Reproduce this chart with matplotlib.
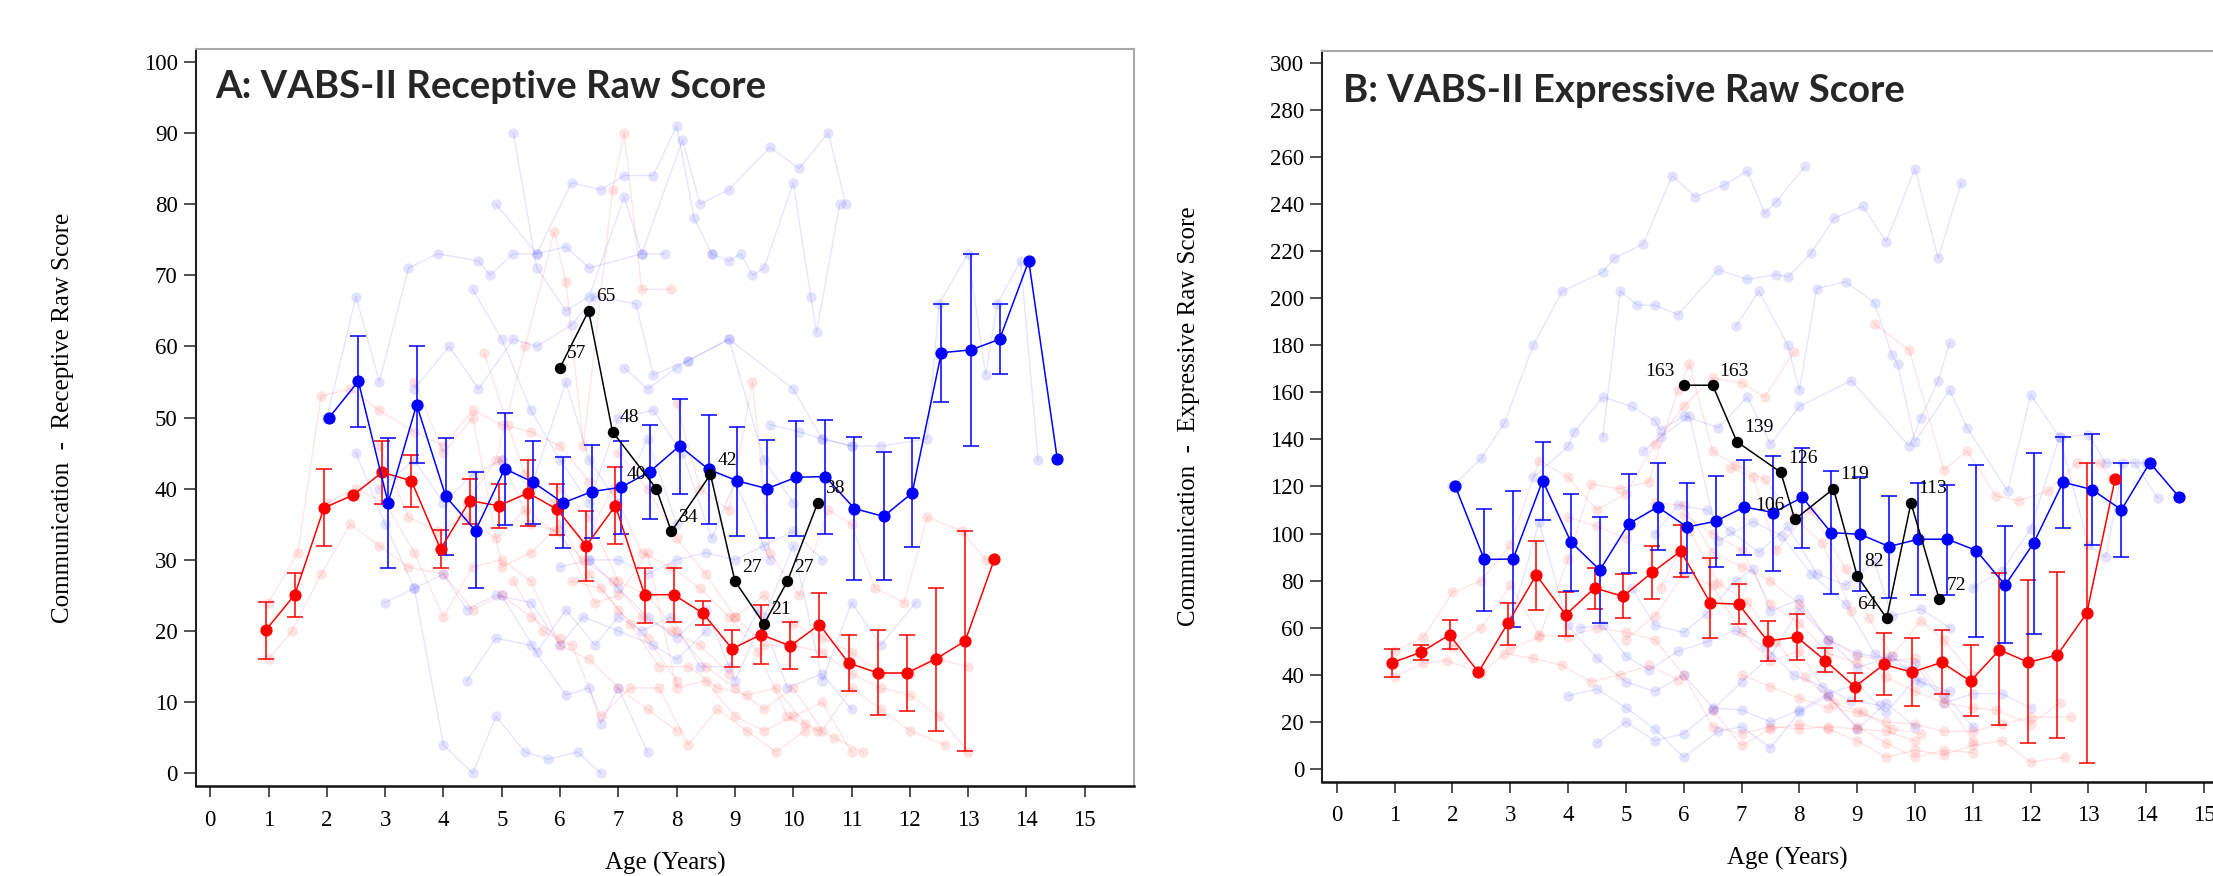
import matplotlib
matplotlib.use("Agg")
import matplotlib.pyplot as plt
import numpy as np

# ---------------- DATA ----------------
# Panel A: VABS-II Receptive raw score
a_red_age = [0.95, 1.45, 1.95, 2.45, 2.95, 3.45, 3.95, 4.45, 4.95, 5.45, 5.95, 6.45, 6.95,
             7.45, 7.95, 8.45, 8.95, 9.45, 9.95, 10.45, 10.95, 11.45, 11.95, 12.45, 12.95, 13.45]
a_red_mean = [20.1, 25.1, 37.3, 39.1, 42.3, 41.1, 31.5, 38.3, 37.6, 39.4, 37.1, 32.0, 37.6,
              25.1, 25.1, 22.5, 17.5, 19.5, 17.9, 20.9, 15.5, 14.1, 14.1, 16.1, 18.6, 30.1]
a_red_hi = [24.1, 28.2, 42.7, None, 46.7, 44.7, 34.2, 41.4, 40.7, 44.0, 40.7, 36.9, 43.0,
            28.9, 28.8, 24.2, 20.1, 23.6, 21.3, 25.3, 19.4, 20.1, 19.4, 26.1, 34.1, None]
a_red_lo = [16.1, 21.9, 31.9, None, 37.9, 37.4, 28.9, 35.1, 34.5, 34.7, 33.5, 27.0, 32.2,
            21.1, 21.3, 20.8, 14.9, 15.3, 14.6, 16.4, 11.5, 8.2, 8.8, 6.0, 3.1, None]

a_blue_age = [2.04, 2.54, 3.05, 3.54, 4.04, 4.55, 5.05, 5.54, 6.05, 6.55, 7.05, 7.54, 8.05,
              8.55, 9.04, 9.55, 10.05, 10.55, 11.05, 11.55, 12.04, 12.54, 13.05, 13.54, 14.04, 14.53]
a_blue_mean = [50.0, 55.1, 38.0, 51.8, 38.9, 34.1, 42.8, 40.9, 38.0, 39.6, 40.2, 42.4, 46.0,
               42.7, 41.1, 40.0, 41.6, 41.7, 37.2, 36.1, 39.4, 59.1, 59.5, 61.0, 72.0, 44.1]
a_blue_hi = [None, 61.4, 47.1, 60.0, 47.1, 42.4, 50.7, 46.7, 44.4, 46.2, 46.7, 48.9, 52.6,
             50.4, 48.7, 46.9, 49.5, 49.6, 47.3, 45.1, 47.1, 66.0, 73.0, 66.0, None, None]
a_blue_lo = [None, 48.6, 28.9, 43.6, 30.7, 26.0, 34.9, 35.1, 31.7, 33.0, 33.7, 35.8, 39.2,
             35.1, 33.4, 33.0, 33.4, 33.7, 27.1, 27.1, 31.8, 52.2, 46.0, 56.1, None, None]

case_age = [6.0, 6.49, 6.9, 7.65, 7.91, 8.58, 9.0, 9.5, 9.9, 10.42]
a_case = [57, 65, 48, 40, 34, 42, 27, 21, 27, 38]
a_case_side = ['R', 'R', 'R', 'L', 'R', 'R', 'R', 'R', 'R', 'R']

# faint individual trajectories, panel A (age, score)
a_blue_ind = [
    [(2.0, 50), (2.5, 67), (2.9, 55), (3.4, 71), (3.9, 73), (4.6, 72), (4.8, 70), (5.2, 73), (5.6, 73), (6.1, 74), (6.5, 71), (7.4, 73), (7.8, 73)],
    [(4.9, 80), (5.6, 73), (6.2, 83), (6.7, 82), (7.1, 84), (7.6, 84), (8.0, 91), (8.3, 78), (8.6, 73)],
    [(5.2, 90), (5.6, 71), (6.1, 65), (6.5, 67), (7.1, 81), (7.4, 73), (8.1, 89), (8.4, 80), (8.9, 82), (9.6, 88), (10.1, 85), (10.6, 90), (10.9, 80)],
    [(3.5, 54), (4.1, 60), (4.6, 54), (5.2, 61), (5.6, 60), (6.2, 63), (6.6, 67), (7.3, 66), (7.6, 56), (8.2, 58), (8.9, 61), (10.0, 54), (10.5, 47), (11.0, 46)],
    [(2.5, 45), (3.0, 35), (3.5, 26), (4.0, 28), (4.4, 23), (4.9, 25), (5.5, 24), (6.0, 18), (6.4, 22), (7.0, 20), (7.6, 18), (8.0, 16), (8.5, 20)],
    [(3.0, 24), (3.5, 26), (4.0, 4), (4.5, 0), (4.9, 8), (5.4, 3), (5.8, 2), (6.3, 3), (6.7, 0)],
    [(4.4, 13), (4.9, 19), (5.5, 18), (6.1, 11), (6.5, 12), (6.7, 7), (7.0, 12), (7.5, 3)],
    [(8.6, 73), (8.9, 72), (9.1, 73), (9.3, 70), (9.5, 71), (10.0, 83), (10.3, 67), (10.4, 62), (10.8, 80)],
    [(9.6, 49), (10.1, 48), (10.5, 47), (11.0, 46), (11.5, 46), (12.3, 47), (12.5, 66), (13.0, 73), (13.3, 56), (13.5, 66), (13.9, 72), (14.2, 44)],
    [(6.0, 29), (6.5, 30), (7.0, 26), (7.5, 22), (8.0, 19), (8.5, 23), (9.0, 13), (9.5, 22), (10.0, 32), (10.5, 13), (11.0, 24), (11.5, 18), (12.1, 24)],
    [(5.0, 25), (5.6, 17), (6.1, 23), (6.6, 18), (7.0, 22), (7.4, 20), (7.9, 22), (8.4, 15), (8.9, 15), (9.4, 23), (9.9, 12), (10.5, 14), (11.0, 9)],
    [(6.5, 30), (7.0, 30), (7.5, 28), (8.0, 30), (8.5, 31), (9.0, 30), (9.5, 32), (10.0, 34), (10.5, 30)],
    [(2.9, 40), (3.5, 44), (4.0, 38), (4.5, 42), (5.0, 44), (5.5, 40), (6.1, 55), (6.5, 44), (7.0, 38), (7.5, 47), (8.0, 35)],
    [(4.5, 68), (5.0, 61), (5.5, 51), (6.0, 44), (6.5, 38), (7.0, 50), (7.6, 51), (8.1, 45), (8.6, 33), (9.0, 41), (9.6, 30)],
    [(7.1, 57), (7.5, 54), (8.0, 57), (8.2, 58), (8.9, 61), (9.5, 44), (10.0, 38)],
]
a_red_ind = [
    [(1.0, 16), (1.4, 20), (1.9, 28), (2.4, 35), (2.9, 32), (3.4, 29), (4.0, 28), (4.5, 23), (5.0, 25), (5.5, 22), (6.0, 19)],
    [(1.0, 24), (1.5, 31), (1.9, 53), (2.4, 54), (2.9, 51), (3.5, 48), (4.0, 46), (4.5, 51), (5.0, 49), (5.5, 48), (6.0, 46), (6.5, 41)],
    [(2.0, 38), (2.5, 40), (3.0, 38), (3.5, 31), (4.0, 22), (4.5, 29), (5.0, 30), (5.5, 27), (6.0, 18), (6.5, 16), (7.0, 12), (7.5, 9), (8.0, 6)],
    [(2.9, 46), (3.4, 36), (3.9, 34), (4.4, 36), (4.9, 33), (5.4, 37), (5.9, 34), (6.4, 30), (6.9, 27), (7.4, 22), (7.9, 20), (8.4, 18), (8.9, 14)],
    [(4.4, 38), (4.9, 44), (5.4, 60), (5.9, 76), (6.1, 69), (6.4, 46), (6.9, 82), (7.1, 90), (7.4, 68), (7.9, 68)],
    [(4.7, 59), (5.1, 49), (5.4, 42), (5.9, 38), (6.4, 32), (6.9, 40), (7.4, 31), (7.9, 29), (8.4, 26), (8.9, 22), (9.4, 17), (9.9, 8), (10.4, 6)],
    [(5.0, 44), (5.5, 35), (6.0, 34), (6.6, 24), (7.0, 25), (7.5, 31), (8.0, 12), (8.5, 13), (9.0, 8), (9.5, 6), (10.0, 8), (10.5, 10), (11.0, 3)],
    [(6.0, 40), (6.5, 36), (7.0, 27), (7.5, 25), (8.0, 20), (8.5, 15), (9.0, 12), (9.5, 9), (10.0, 12), (10.5, 6), (11.0, 12), (11.5, 9), (12.0, 6), (12.6, 4)],
    [(8.0, 52), (8.4, 40), (8.9, 37), (9.3, 55), (9.6, 31), (10.1, 25), (10.6, 37), (11.0, 35), (11.4, 26), (11.9, 24), (12.3, 36), (12.9, 34), (13.3, 30)],
    [(6.2, 27), (6.7, 26), (7.2, 21), (7.7, 15), (8.2, 15), (8.7, 12), (9.2, 11), (9.7, 12), (10.2, 7), (10.7, 5), (11.2, 3)],
    [(5.2, 27), (5.7, 20), (6.2, 18), (6.7, 8), (7.2, 12), (7.7, 12), (8.2, 4), (8.7, 9), (9.2, 6), (9.7, 3), (10.2, 6)],
    [(7.0, 45), (7.5, 40), (8.0, 33), (8.5, 28), (9.0, 22), (9.5, 18), (10.0, 18), (10.5, 17), (11.0, 14), (11.5, 12), (12.0, 11), (12.5, 8), (13.0, 3)],
    [(3.5, 55), (4.0, 45), (4.5, 50), (5.0, 29), (5.5, 31), (6.0, 35), (6.5, 28), (7.0, 23), (7.5, 19), (8.0, 13)],
    [(9.0, 22), (9.5, 25), (10.0, 21), (10.5, 19), (11.0, 17), (11.5, 14), (12.0, 14), (12.5, 16), (13.0, 15)],
]

# Panel B: VABS-II Expressive raw score
b_red_age = [0.95, 1.46, 1.95, 2.45, 2.96, 3.45, 3.96, 4.46, 4.95, 5.46, 5.95, 6.46, 6.95,
             7.45, 7.96, 8.45, 8.96, 9.46, 9.95, 10.46, 10.96, 11.46, 11.96, 12.46, 12.97, 13.46]
b_red_mean = [45.1, 49.6, 57.0, 41.1, 62.0, 82.4, 65.5, 76.9, 73.3, 83.6, 92.6, 70.5, 70.0,
              54.4, 56.0, 46.0, 34.9, 44.4, 41.1, 45.3, 37.3, 50.6, 45.3, 48.4, 66.2, 123.2]
b_red_hi = [51.0, 52.7, 63.4, None, 70.7, 96.8, 75.0, 85.2, 82.8, 94.7, 103.7, 89.5, 78.6,
            62.9, 65.7, 51.3, 40.6, 57.7, 55.5, 59.1, 52.5, 83.3, 80.2, 83.6, 130.1, None]
b_red_lo = [38.9, 46.3, 51.0, None, 52.7, 67.6, 56.5, 68.1, 64.3, 72.4, 81.4, 55.8, 61.5,
            45.8, 46.3, 41.1, 29.0, 31.3, 26.6, 31.8, 22.3, 18.5, 10.9, 13.3, 2.4, None]

b_blue_age = [2.05, 2.55, 3.05, 3.56, 4.05, 4.55, 5.05, 5.55, 6.06, 6.55, 7.05, 7.55, 8.05,
              8.55, 9.05, 9.55, 10.06, 10.56, 11.06, 11.56, 12.05, 12.56, 13.06, 13.57, 14.06, 14.57]
b_blue_mean = [120.1, 89.0, 89.2, 122.5, 96.4, 84.5, 104.2, 111.3, 102.8, 105.2, 111.3, 108.9, 115.4,
               100.4, 99.7, 94.5, 97.6, 97.6, 92.8, 78.1, 95.9, 121.8, 118.7, 110.1, 130.1, 115.4]
b_blue_hi = [None, 110.4, 118.2, 139.1, 116.8, 107.0, 125.1, 129.8, 121.5, 124.4, 131.2, 132.9, 136.2,
             126.5, 124.1, 115.8, 121.3, 120.8, 129.1, 103.0, 134.3, 141.2, 142.2, 130.1, None, None]
b_blue_lo = [None, 67.2, 60.1, 105.9, 75.7, 62.0, 83.3, 93.0, 83.3, 85.7, 90.7, 84.3, 93.8,
             74.5, 75.5, 72.6, 73.8, 73.8, 56.0, 53.4, 57.2, 102.3, 95.2, 90.2, None, None]

b_case_age = [6.01, 6.5, 6.92, 7.68, 7.92, 8.59, 9.0, 9.51, 9.93, 10.42]
b_case = [163, 163, 139, 126, 106, 119, 82, 64, 113, 72]
b_case_side = ['L', 'R', 'R', 'R', 'L', 'R', 'R', 'L', 'R', 'R']

b_blue_ind = [
    [(2.0, 120), (2.5, 132), (2.9, 147), (3.4, 180), (3.9, 203), (4.6, 211), (4.8, 217), (5.3, 223), (5.8, 252), (6.2, 243), (6.7, 248), (7.1, 254), (7.4, 236), (7.6, 241), (8.1, 256)],
    [(4.6, 141), (4.9, 203), (5.2, 197), (5.5, 197), (5.9, 193), (6.6, 212), (7.1, 208), (7.6, 210), (7.8, 209), (8.2, 219), (8.6, 234), (9.1, 239), (9.5, 224), (10.0, 255), (10.4, 217), (10.8, 249)],
    [(3.4, 124), (4.0, 137), (4.1, 143), (4.6, 158), (5.1, 154), (5.5, 148), (5.6, 144), (6.0, 150), (6.6, 145), (7.1, 158), (7.5, 138), (8.0, 154), (8.9, 165), (9.9, 137), (10.1, 149), (10.4, 165), (10.6, 181)],
    [(6.9, 188), (7.3, 203), (7.8, 180), (8.0, 161), (8.3, 204), (8.8, 207), (9.3, 198), (9.6, 176), (9.7, 172), (10.0, 139), (10.6, 161), (10.9, 145), (11.6, 118), (12.0, 159), (12.5, 141), (13.0, 142), (13.3, 130), (13.8, 130), (14.2, 115)],
    [(3.0, 62), (3.5, 105), (4.0, 61), (4.5, 47), (5.0, 37), (5.5, 33), (6.0, 40), (6.5, 26), (7.0, 25), (7.5, 20), (8.0, 25), (8.5, 32), (9.0, 36), (9.5, 24), (10.0, 38), (10.5, 32), (11.0, 18)],
    [(4.0, 31), (4.5, 34), (5.0, 26), (5.5, 17), (6.0, 5), (6.6, 16), (7.0, 18), (7.5, 9), (8.0, 24), (8.5, 31), (9.0, 17), (9.5, 28), (10.0, 18)],
    [(4.5, 11), (5.0, 20), (5.5, 12), (6.0, 15), (6.5, 25), (7.0, 37), (7.5, 48), (8.0, 68), (8.5, 55), (9.0, 49), (9.5, 47), (10.0, 45), (10.5, 28), (11.0, 32), (11.5, 32), (12.0, 26)],
    [(5.1, 77), (5.5, 61), (6.0, 58), (6.4, 66), (6.9, 80), (7.2, 85), (7.5, 67), (8.0, 72), (8.5, 55), (9.0, 43), (9.6, 48), (10.1, 37), (10.6, 33)],
    [(5.5, 100), (5.9, 112), (6.4, 110), (6.8, 101), (7.3, 92), (7.8, 103), (8.3, 83), (8.8, 78), (9.3, 88), (9.6, 65), (10.1, 68), (10.6, 60)],
    [(5.3, 135), (5.6, 141), (6.1, 150), (6.6, 97), (7.2, 105), (7.7, 99), (8.2, 83), (8.8, 70), (9.3, 49), (9.9, 42)],
    [(4.2, 60), (4.6, 61), (5.0, 48), (5.4, 42), (5.9, 50), (6.4, 54), (6.9, 59), (7.4, 52), (7.9, 40), (8.4, 35), (8.9, 29), (9.4, 27)],
    [(11.0, 77), (11.5, 84), (12.0, 102), (12.5, 141), (13.0, 95), (13.3, 90), (13.6, 130), (14.0, 130)],
]
b_red_ind = [
    [(1.0, 39), (1.5, 45), (1.9, 46), (2.5, 41), (2.9, 49), (3.4, 47), (3.9, 44), (4.4, 37), (4.9, 40), (5.4, 44), (5.9, 38)],
    [(1.0, 50), (1.5, 56), (2.0, 75), (2.5, 80), (3.0, 95), (3.5, 131), (4.0, 124), (4.5, 110), (5.0, 117), (5.5, 138), (6.0, 154), (6.5, 166), (7.0, 164), (7.4, 158), (7.9, 177)],
    [(2.0, 52), (2.5, 60), (3.0, 78), (3.5, 57), (4.0, 56), (4.5, 60), (5.0, 58), (5.5, 55), (6.0, 40), (6.5, 18), (7.0, 15), (7.5, 18), (8.0, 17), (8.5, 18), (9.0, 17), (9.5, 16), (10.0, 12)],
    [(3.0, 51), (3.5, 56), (4.0, 89), (4.4, 121), (4.9, 119), (5.4, 122), (5.9, 161), (6.1, 172), (6.5, 135), (6.9, 129), (7.4, 123), (7.9, 107), (8.4, 96), (8.9, 67)],
    [(4.0, 107), (4.5, 103), (5.0, 98), (5.5, 113), (6.0, 112), (6.5, 92), (7.0, 86), (7.5, 80), (8.0, 70), (8.5, 55), (9.0, 48), (9.5, 46), (10.0, 47), (10.5, 30), (11.0, 12)],
    [(5.0, 55), (5.5, 65), (6.0, 83), (6.5, 78), (7.0, 58), (7.5, 46), (8.0, 50), (8.5, 31), (9.0, 18), (9.5, 11), (10.0, 5), (10.5, 8), (11.0, 7)],
    [(6.0, 108), (6.5, 100), (7.0, 93), (7.5, 70), (8.0, 62), (8.5, 49), (9.0, 45), (9.5, 39), (10.0, 33), (10.5, 28), (11.0, 26), (11.4, 25), (12.0, 19), (12.5, 28)],
    [(9.3, 189), (9.9, 178), (10.5, 127), (10.9, 135), (11.4, 116), (11.8, 114), (12.3, 118), (12.8, 130), (13.2, 130), (13.4, 123)],
    [(6.5, 25), (7.0, 10), (7.5, 17), (8.0, 19), (8.5, 17), (9.0, 12), (9.5, 5), (10.0, 8), (10.5, 6), (11.0, 10), (11.5, 12), (12.0, 3), (12.6, 5)],
    [(7.0, 40), (7.5, 35), (8.0, 30), (8.5, 26), (9.0, 24), (9.5, 20), (10.0, 19), (10.5, 16), (11.0, 16), (11.5, 19), (12.0, 22), (12.7, 22)],
    [(5.6, 77), (6.1, 101), (6.6, 79), (7.1, 71), (7.6, 54), (8.1, 39), (8.6, 28), (9.1, 24), (9.6, 17), (10.1, 15)],
    [(6.8, 128), (7.2, 124), (7.6, 93), (8.2, 110), (8.8, 85), (9.2, 64), (9.6, 48), (10.1, 63), (10.5, 55), (11.0, 40)],
]

titles = ["A: VABS-II Receptive Raw Score", "B: VABS-II Expressive Raw Score"]
ylabels = ["Communication  -  Receptive Raw Score", "Communication  -  Expressive Raw Score"]
xlabel = "Age (Years)"
a_yticks = list(range(0, 101, 10))
b_yticks = list(range(0, 301, 20))
xticks = list(range(0, 16))

# ---------------- STYLE / DRAW ----------------
W, H = 2213, 876
fig = plt.figure(figsize=(W / 100, H / 100), dpi=100)
serif = ['Liberation Serif', 'DejaVu Serif']

axA = fig.add_axes([195.7 / W, 1 - 786 / H, 938.6 / W, 737 / H])
axB = fig.add_axes([1322.3 / W, 1 - 781.7 / H, 931 / W, 731 / H])


def draw_panel(ax, red_age, red_mean, red_hi, red_lo, blue_age, blue_mean, blue_hi, blue_lo,
               c_age, c_val, c_side, blue_ind, red_ind, ylim, yticks, title, ylabel, title_xy):
    # faint individual trajectories
    for traj in blue_ind:
        xs = [p[0] for p in traj]
        ys = [p[1] for p in traj]
        ax.plot(xs, ys, '-', color=(0, 0, 1, 0.10), lw=1.0, zorder=1)
        ax.plot(xs, ys, 'o', color=(0, 0, 1, 0.11), ms=7.5, mec='none', zorder=1)
    for traj in red_ind:
        xs = [p[0] for p in traj]
        ys = [p[1] for p in traj]
        ax.plot(xs, ys, '-', color=(1, 0, 0, 0.10), lw=1.0, zorder=1)
        ax.plot(xs, ys, 'o', color=(1, 0, 0, 0.11), ms=7.5, mec='none', zorder=1)

    for age, mean, hi, lo, col in [(red_age, red_mean, red_hi, red_lo, '#ff0000'),
                                   (blue_age, blue_mean, blue_hi, blue_lo, '#0000ff')]:
        ex, ey, elo, ehi = [], [], [], []
        for a, m, h, l in zip(age, mean, hi, lo):
            if h is not None:
                ex.append(a); ey.append(m); elo.append(m - l); ehi.append(h - m)
        ax.errorbar(ex, ey, yerr=[elo, ehi], fmt='none', ecolor=col, elinewidth=1.3,
                    capsize=5.5, capthick=1.3, alpha=0.85, zorder=3)
        ax.plot(age, mean, '-o', color=col, lw=1.1, ms=7.8, zorder=4)

    ax.plot(c_age, c_val, '-o', color='black', lw=1.1, ms=7.2, zorder=6)
    for a, v, s in zip(c_age, c_val, c_side):
        if s == 'R':
            ax.annotate(str(v), (a, v), xytext=(7, 14), textcoords='offset pixels',
                        ha='left', va='center', fontsize=14, family=serif, zorder=7)
        else:
            ax.annotate(str(v), (a, v), xytext=(-10, 14), textcoords='offset pixels',
                        ha='right', va='center', fontsize=14, family=serif, zorder=7)

    ax.set_xlim(-0.25, 15.85)
    ax.set_ylim(*ylim)
    ax.set_xticks(xticks)
    ax.set_yticks(yticks)
    ax.tick_params(axis='both', direction='out', labelsize=16.5, color='#222222')
    ax.tick_params(axis='y', length=9, width=1.1, pad=4)
    ax.tick_params(axis='x', length=8, width=1.1, pad=9)
    for lab in ax.get_xticklabels() + ax.get_yticklabels():
        lab.set_family(serif)
    ax.spines['left'].set_color('#222222')
    ax.spines['bottom'].set_color('#111111')
    ax.spines['left'].set_linewidth(1.5)
    ax.spines['bottom'].set_linewidth(1.8)
    ax.spines['top'].set_color('#a8a8a8')
    ax.spines['right'].set_color('#a8a8a8')
    ax.spines['top'].set_linewidth(1.5)
    ax.spines['right'].set_linewidth(1.5)

    ax.set_ylabel(ylabel, fontsize=18, family=serif)
    ax.set_xlabel(xlabel, fontsize=18, family=serif)
    bb = ax.get_position()
    ax.yaxis.set_label_coords(-133 / (bb.width * W), 0.5)
    ax.xaxis.set_label_coords(0.5, -77 / (bb.height * H))
    ax.xaxis.label.set_verticalalignment('center')
    ax.yaxis.label.set_verticalalignment('center')

    fig.text(title_xy[0] / W, 1 - title_xy[1] / H, title, fontsize=27.5, fontweight='bold',
             family=['Lato', 'DejaVu Sans'], color='#262626', ha='left', va='baseline')


draw_panel(axA, a_red_age, a_red_mean, a_red_hi, a_red_lo, a_blue_age, a_blue_mean, a_blue_hi,
           a_blue_lo, case_age, a_case, a_case_side, a_blue_ind, a_red_ind, (-1.78, 101.78),
           a_yticks, titles[0], ylabels[0], (215, 98))
draw_panel(axB, b_red_age, b_red_mean, b_red_hi, b_red_lo, b_blue_age, b_blue_mean, b_blue_hi,
           b_blue_lo, b_case_age, b_case, b_case_side, b_blue_ind, b_red_ind, (-5.4, 305.1),
           b_yticks, titles[1], ylabels[1], (1343, 102))

fig.savefig('out.png', dpi=100)
